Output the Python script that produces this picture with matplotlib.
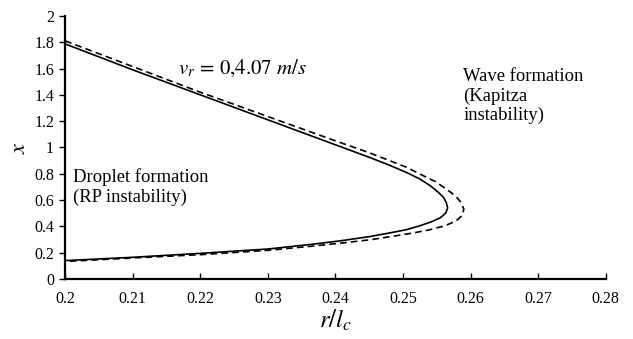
import numpy as np
import matplotlib.pyplot as plt

plt.rcParams['font.family'] = 'Liberation Serif'
plt.rcParams['mathtext.fontset'] = 'stix'

# solid curve (r/l_c, x), from top branch round the nose to the bottom branch
r_solid = [0.2, 0.21, 0.22, 0.23, 0.24, 0.245, 0.248, 0.2505, 0.2525, 0.254,
           0.2552, 0.256, 0.2564, 0.2566, 0.2563, 0.2555, 0.2542, 0.2525,
           0.2505, 0.248, 0.245, 0.2407, 0.2362, 0.23, 0.22, 0.21, 0.2]
x_solid = [1.787, 1.59, 1.40, 1.21, 1.02, 0.925, 0.865, 0.81, 0.76, 0.71,
           0.66, 0.62, 0.58, 0.54, 0.50, 0.465, 0.435, 0.405,
           0.375, 0.35, 0.322, 0.29, 0.262, 0.228, 0.195, 0.165, 0.14]

# dashed curve
r_dash = [0.2, 0.21, 0.22, 0.23, 0.24, 0.245, 0.248, 0.2505, 0.2528, 0.2548,
          0.2565, 0.2578, 0.2586, 0.259, 0.2587, 0.2578, 0.2562, 0.254,
          0.2515, 0.2495, 0.2451, 0.2407, 0.2362, 0.23, 0.22, 0.21, 0.2]
x_dash = [1.81, 1.615, 1.42, 1.235, 1.05, 0.96, 0.90, 0.85, 0.79, 0.74,
          0.68, 0.63, 0.58, 0.53, 0.48, 0.44, 0.405, 0.375,
          0.35, 0.333, 0.298, 0.272, 0.248, 0.218, 0.185, 0.16, 0.133]

xticks = [0.2, 0.21, 0.22, 0.23, 0.24, 0.25, 0.26, 0.27, 0.28]
yticks = [0, 0.2, 0.4, 0.6, 0.8, 1, 1.2, 1.4, 1.6, 1.8, 2]

fig = plt.figure(figsize=(6.33, 3.39), dpi=100)
ax = fig.add_axes([0.103, 0.177, 0.854, 0.776])

ax.plot(r_solid, x_solid, color='black', lw=1.2)
ax.plot(r_dash, x_dash, color='black', lw=1.2, ls=(0, (4, 2.5)))

ax.set_xlim(0.2, 0.28)
ax.set_ylim(0, 2)
ax.set_xticks(xticks)
ax.set_xticklabels([f"{t:g}" for t in xticks])
ax.set_yticks(yticks)
ax.set_yticklabels([f"{t:g}" for t in yticks])

for s in ['top', 'right']:
    ax.spines[s].set_visible(False)
for s in ['left', 'bottom']:
    ax.spines[s].set_linewidth(1.6)
ax.tick_params(axis='x', direction='in', length=4, width=1, labelsize=11.5, pad=9)
ax.tick_params(axis='y', direction='out', length=4, width=1, labelsize=11.5, pad=4)

ax.set_xlabel(r'$r/l_c$', fontsize=18, labelpad=0)
ax.set_ylabel(r'$x$', fontsize=16, labelpad=3)

ax.text(0.2167, 1.6, r'$v_r\,=\,0{,}4.07\ m/s$', fontsize=15, va='center')
ax.text(0.2012, 0.70, 'Droplet formation\n(RP instability)', fontsize=13.4,
        va='center', linespacing=1.15)
ax.text(0.2589, 1.39, 'Wave formation\n(Kapitza\ninstability)', fontsize=13.4,
        va='center', linespacing=1.15)

fig.savefig('out.png', dpi=100)
